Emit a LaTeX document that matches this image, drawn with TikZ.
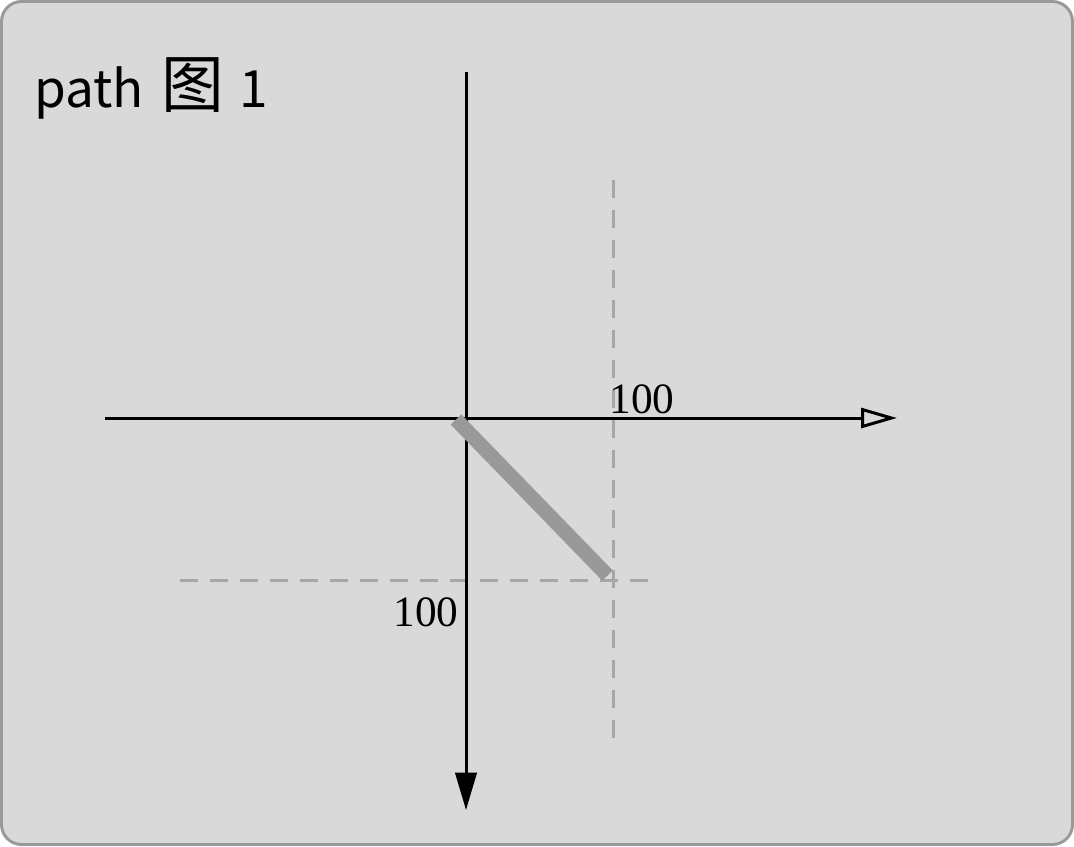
\documentclass[tikz,border=0pt]{standalone}
\usepackage{fontspec}
\setmainfont{Liberation Serif}
\newfontfamily\cjk{Noto Sans CJK SC}
\usetikzlibrary{arrows.meta}
\definecolor{bgfill}{HTML}{D9D9D9}
\definecolor{bordergray}{HTML}{999999}
\definecolor{dashgray}{HTML}{A6A6A6}
\definecolor{thickgray}{HTML}{999999}
\tikzset{
  axis/.style={line width=2.25pt},
  guide/.style={dashgray, line width=2.25pt, dash pattern=on 13.5pt off 9pt},
  numlabel/.style={font=\fontsize{32.5}{32.5}\selectfont, inner sep=0pt, anchor=base},
}
\begin{document}
\begin{tikzpicture}[x=0.75pt,y=-0.75pt]
\useasboundingbox (0,0) rectangle (1074,846);
\draw[bordergray, fill=bgfill, line width=2.2pt, rounded corners=15pt] (1.5,1.5) rectangle (1072.5,844.5);
\node[anchor=base west, inner sep=0pt, font=\cjk\fontsize{38.5}{38.5}\selectfont] (title) at (34,107)
  {path\hspace{13pt}{\fontsize{47}{47}\selectfont 图}\hspace{12pt}1};
% guides
\coordinate (vtop) at (613,180);
\coordinate (vbot) at (613,738);
\coordinate (hl) at (180,580);
\coordinate (hr) at (648,580);
\draw[guide] (vtop) -- (vbot);
\draw[guide] (hl) -- (hr);
% axes
\coordinate (xl) at (105,418);
\coordinate (xr) at (897,418);
\coordinate (yt) at (466,72);
\coordinate (yb) at (466,810);
\draw[axis, -{Triangle[open, length=27pt, width=15pt, line width=2.25pt]}] (xl) -- (xr);
\draw[axis, -{Triangle[length=28pt, width=16pt]}] (yt) -- (yb);
% thick line
\coordinate (p0) at (456,419.5);
\coordinate (p1) at (607.5,575.5);
\draw[thickgray, line width=11pt] (p0) -- (p1);
% labels
\node[numlabel] (lx) at (642,413) {100};
\node[numlabel] (ly) at (426,626) {100};
\end{tikzpicture}
\end{document}
